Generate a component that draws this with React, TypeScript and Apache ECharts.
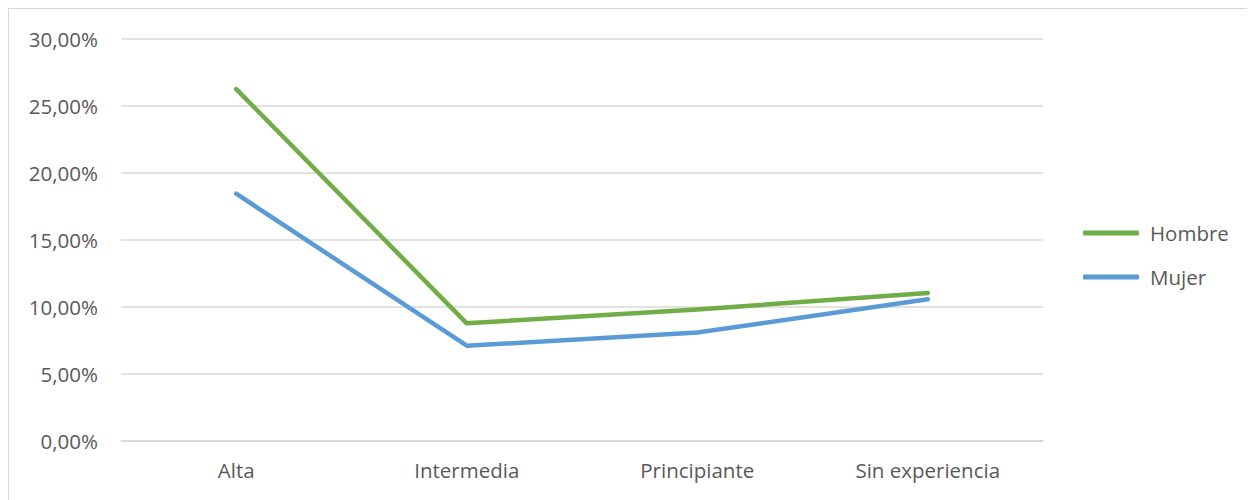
import React, { useEffect, useRef } from "react";
import * as echarts from "echarts";

const categories = ["Alta", "Intermedia", "Principiante", "Sin experiencia"];
const hombre = [26.23, 8.77, 9.81, 11.03];
const mujer = [18.43, 7.1, 8.08, 10.57];
const seriesNames = ["Hombre", "Mujer"];
const seriesColors = ["#70ad47", "#5b9bd5"];

const FONT = "'Open Sans', sans-serif";
const TEXT = "#595959";
const FS = 20.5;

export default function App() {
  const ref = useRef<HTMLDivElement>(null);
  useEffect(() => {
    if (!ref.current) return;
    const chart = echarts.init(ref.current, null, { renderer: "svg" });
    chart.setOption({
      animation: false,
      backgroundColor: "#ffffff",
      grid: { left: 112, right: 212, top: 29.5, bottom: 59, containLabel: false },
      legend: {
        orient: "vertical",
        left: 1074,
        top: 212,
        padding: 0,
        icon: "roundRect",
        itemWidth: 56,
        itemHeight: 5,
        itemGap: 20,
        textStyle: { color: TEXT, fontFamily: FONT, fontSize: FS, lineHeight: 24, padding: [0, 0, 0, 6] },
        data: seriesNames,
      },
      xAxis: {
        type: "category",
        data: categories,
        boundaryGap: true,
        axisLine: { show: true, lineStyle: { color: "#d9d9d9", width: 1.5 } },
        axisTick: { show: false },
        axisLabel: { color: TEXT, fontFamily: FONT, fontSize: FS, margin: 18 },
      },
      yAxis: {
        type: "value",
        min: 0,
        max: 30,
        interval: 5,
        axisLine: { show: false },
        axisTick: { show: false },
        splitLine: { lineStyle: { color: "#d9d9d9", width: 1.5 } },
        axisLabel: {
          color: TEXT,
          fontFamily: FONT,
          fontSize: FS,
          margin: 23,
          formatter: (v: number) => v.toFixed(2).replace(".", ",") + "%",
        },
      },
      series: [
        {
          name: seriesNames[0],
          type: "line",
          data: hombre,
          symbol: "none",
          color: seriesColors[0],
          lineStyle: { width: 4.5, color: seriesColors[0], cap: "round", join: "round" },
        },
        {
          name: seriesNames[1],
          type: "line",
          data: mujer,
          symbol: "none",
          color: seriesColors[1],
          lineStyle: { width: 4.5, color: seriesColors[1], cap: "round", join: "round" },
        },
      ],
    });
    return () => chart.dispose();
  }, []);
  return (
    <div
      ref={ref}
      style={{
        width: 1247,
        height: 492,
        boxSizing: "border-box",
        borderLeft: "1.5px solid #d9d9d9",
        borderTop: "1.5px solid #d9d9d9",
      }}
    />
  );
}
